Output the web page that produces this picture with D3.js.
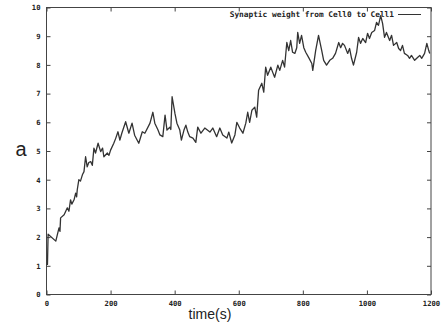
<!DOCTYPE html>
<html>
<head>
<meta charset="utf-8">
<script src="https://cdn.jsdelivr.net/npm/d3@7"></script>
<style>
  html, body { margin: 0; padding: 0; background: #fff; }
  svg { display: block; }
  .tick-label { font-family: "DejaVu Sans Mono", monospace; font-weight: bold; font-size: 7.2px; fill: #222; }
</style>
</head>
<body>
<svg id="chart" width="443" height="323"></svg>
<script>
// Synaptic weight of the Cell0 -> Cell1 connection over time
const times = [
  0, 3, 5, 29, 39, 42, 44, 55, 65, 70, 75, 79, 86, 91, 94, 96,
  101, 106, 112, 117, 122, 127, 132, 138, 143, 148, 153, 161, 169, 175, 179, 190,
  195, 200, 210, 216, 223, 229, 235, 247, 257, 267, 275, 288, 299, 307, 323, 332,
  338, 348, 354, 363, 370, 376, 385, 388, 392, 401, 407, 416, 421, 429, 435, 441,
  447, 457, 466, 472, 482, 494, 510, 519, 531, 541, 550, 563, 569, 578, 588, 594,
  603, 613, 622, 628, 634, 641, 650, 656, 662, 672, 678, 684, 690, 700, 706, 712,
  722, 728, 737, 743, 750, 756, 762, 768, 775, 781, 784, 790, 796, 803, 809, 818,
  828, 831, 840, 849, 859, 865, 874, 884, 893, 902, 912, 918, 924, 930, 940, 946,
  952, 958, 968, 974, 980, 987, 996, 1002, 1008, 1015, 1024, 1030, 1036, 1043, 1049, 1055,
  1061, 1071, 1077, 1083, 1093, 1099, 1105, 1111, 1117, 1127, 1133, 1139, 1149, 1158, 1165, 1171,
  1180, 1187, 1193, 1196
];
const weights = [
  1.05, 1.05, 2.1, 1.86, 2.32, 2.2, 2.67, 2.78, 3.02, 2.9, 3.3, 3.15, 3.3, 3.53, 3.4, 3.65,
  4.0, 3.95, 4.17, 4.28, 4.8, 4.45, 4.6, 4.63, 4.5, 5.1, 4.93, 5.27, 4.98, 5.1, 4.8, 4.93,
  4.85, 5.03, 5.27, 5.44, 5.67, 5.38, 5.62, 6.02, 5.62, 5.97, 5.55, 5.27, 5.67, 5.62, 5.97, 6.35,
  5.97, 5.73, 5.56, 5.5, 6.25, 5.73, 5.83, 5.75, 6.89, 6.3, 5.97, 5.73, 5.38, 5.73, 5.9, 5.66,
  5.5, 5.45, 5.3, 5.83, 5.62, 5.8, 5.66, 5.8, 5.5, 5.8, 5.56, 5.45, 5.66, 5.28, 5.56, 6.0,
  5.8, 5.62, 5.97, 6.35, 6.0, 6.42, 6.53, 6.18, 7.12, 7.36, 7.05, 7.92, 7.64, 7.92, 7.74, 7.57,
  7.99, 7.81, 8.16, 7.92, 8.78, 8.5, 8.85, 8.44, 8.4, 8.6, 9.13, 8.75, 9.03, 8.6, 8.44, 8.26,
  8.05, 7.81, 8.5, 9.03, 8.5, 8.16, 7.99, 8.16, 8.23, 8.4, 8.78, 8.6, 8.75, 8.68, 8.4, 8.57,
  8.23, 7.99, 8.44, 8.96, 8.75, 8.92, 8.78, 9.1, 8.92, 9.13, 9.2, 9.48, 9.38, 9.72, 9.44, 8.96,
  9.13, 8.85, 9.03, 8.68, 8.78, 8.57, 8.5, 8.68, 8.4, 8.33, 8.23, 8.33, 8.16, 8.26, 8.33, 8.23,
  8.4, 8.75, 8.5, 8.4
];
const xTicks = [0, 200, 400, 600, 800, 1000, 1200];
const yTicks = [0, 1, 2, 3, 4, 5, 6, 7, 8, 9, 10];
const legendLabel = "Synaptic weight from Cell0 to Cell1";
const xTitle = "time(s)";
const yTitle = "a";

const svg = d3.select("#chart");
const plot = { left: 46.5, right: 431, top: 7.5, bottom: 294.5 };

const x = d3.scaleLinear().domain([0, 1200]).range([plot.left, plot.right]);
const y = d3.scaleLinear().domain([0, 10]).range([plot.bottom, plot.top]);

const frameColor = "#444";
const tickLen = 4;

// plot border
svg.append("rect")
  .attr("x", plot.left).attr("y", plot.top)
  .attr("width", plot.right - plot.left).attr("height", plot.bottom - plot.top)
  .attr("fill", "none").attr("stroke", frameColor).attr("stroke-width", 1);

// inward ticks, mirrored on all sides
const intFmt = d3.format("d");
const bottomAxis = d3.axisBottom(x).tickValues(xTicks).tickSizeInner(-tickLen).tickSizeOuter(0).tickPadding(6).tickFormat(intFmt);
const topAxis = d3.axisTop(x).tickValues(xTicks).tickSizeInner(-tickLen).tickSizeOuter(0).tickFormat("");
const leftAxis = d3.axisLeft(y).tickValues(yTicks).tickSizeInner(-tickLen).tickSizeOuter(0).tickPadding(6).tickFormat(intFmt);
const rightAxis = d3.axisRight(y).tickValues(yTicks).tickSizeInner(-tickLen).tickSizeOuter(0).tickFormat("");

function styleAxis(g) {
  g.select(".domain").remove();
  g.selectAll(".tick line").attr("stroke", frameColor);
  g.selectAll(".tick text").attr("class", "tick-label").attr("fill", "#222");
}

svg.append("g").attr("transform", `translate(0,${plot.bottom})`).call(bottomAxis).call(styleAxis)
  .selectAll("text").attr("dy", "0.71em");
svg.append("g").attr("transform", `translate(0,${plot.top})`).call(topAxis).call(styleAxis);
svg.append("g").attr("transform", `translate(${plot.left},0)`).call(leftAxis).call(styleAxis);
svg.append("g").attr("transform", `translate(${plot.right},0)`).call(rightAxis).call(styleAxis);

// weight trace
const series = times.map((t, i) => [t, weights[i]]);
svg.append("path")
  .datum(series)
  .attr("fill", "none")
  .attr("stroke", "#333")
  .attr("stroke-width", 1.3)
  .attr("stroke-linejoin", "round")
  .attr("d", d3.line().x(d => x(d[0])).y(d => y(d[1])));

// legend (top right, inside the frame)
svg.append("text")
  .attr("x", 394).attr("y", 17)
  .attr("text-anchor", "end")
  .attr("font-family", "DejaVu Sans Mono, monospace")
  .attr("font-weight", "bold")
  .attr("font-size", 7.8)
  .attr("fill", "#222")
  .text(legendLabel);
svg.append("line")
  .attr("x1", 398).attr("x2", 421).attr("y1", 14.5).attr("y2", 14.5)
  .attr("stroke", "#333").attr("stroke-width", 1);

// axis titles
svg.append("text")
  .attr("x", 210).attr("y", 319)
  .attr("text-anchor", "middle")
  .attr("font-family", "Liberation Sans, Arial, sans-serif")
  .attr("font-size", 14)
  .attr("fill", "#222")
  .text(xTitle);
svg.append("text")
  .attr("x", 21).attr("y", 156)
  .attr("text-anchor", "middle")
  .attr("font-family", "Liberation Sans, Arial, sans-serif")
  .attr("font-size", 20)
  .attr("fill", "#222")
  .text(yTitle);
</script>
</body>
</html>
